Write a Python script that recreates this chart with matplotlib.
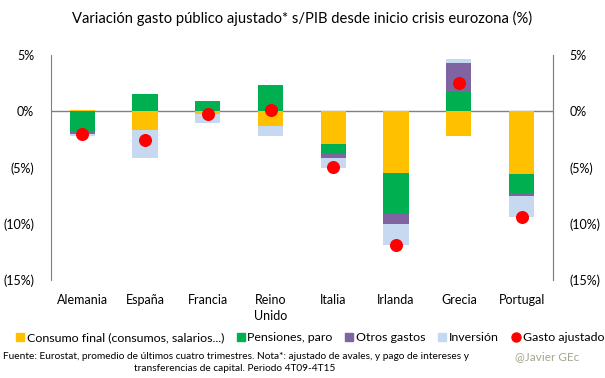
import numpy as np
import matplotlib.pyplot as plt
from matplotlib.lines import Line2D

plt.rcParams['font.family'] = ['Lato', 'DejaVu Sans']

# data (% of GDP change)
paises = ["Alemania", "España", "Francia", "Reino\nUnido", "Italia", "Irlanda", "Grecia", "Portugal"]
consumo = [0.1, -1.65, -0.2, -1.3, -2.9, -5.45, -2.2, -5.55]
pensiones = [-1.7, 1.55, 0.85, 2.3, -0.85, -3.65, 1.85, -1.7]
otros = [-0.3, 0.0, 0.05, 0.05, -0.4, -0.95, 2.45, -0.25]
inversion = [-0.2, -2.45, -0.85, -0.85, -0.9, -1.85, 0.4, -1.85]
ajustado = [-2.0, -2.55, -0.2, 0.1, -4.9, -11.85, 2.55, -9.35]

series = [
    ("Consumo final (consumos, salarios...)", consumo, "#FFC000"),
    ("Pensiones, paro", pensiones, "#00B050"),
    ("Otros gastos", otros, "#8064A2"),
    ("Inversión", inversion, "#C6D9F1"),
]

fig = plt.figure(figsize=(6.05, 3.78), dpi=100)
ax = fig.add_axes([0.084, 0.259, 0.83, 0.595])
x = np.arange(len(paises))

pos_base = np.zeros(len(paises))
neg_base = np.zeros(len(paises))
handles = []
for name, vals, col in series:
    v = np.array(vals)
    base = np.where(v >= 0, pos_base, neg_base)
    ax.bar(x, v, width=0.4, bottom=base, color=col, zorder=2)
    handles.append(Line2D([], [], ls="none", marker="s", ms=6, mfc=col, mec=col, label=name))
    pos_base += np.where(v >= 0, v, 0)
    neg_base += np.where(v < 0, v, 0)

ax.scatter(x, ajustado, s=70, color="#FF0000", zorder=3)
handles.append(Line2D([], [], ls="none", marker="o", ms=6.5, mfc="#FF0000", mec="#FF0000",
                      label="Gasto ajustado"))
ax.axhline(0, color="#808080", lw=1, zorder=1)

ax.set_xlim(-0.5, len(paises) - 0.5)
ax.set_ylim(-15, 5)
yt = [5, 0, -5, -10, -15]
ylab = ["5%", "0%", "(5%)", "(10%)", "(15%)"]
ax.set_yticks(yt)
ax.set_yticklabels(ylab, fontsize=9)
ax.set_xticks(x)
ax.set_xticklabels(paises, fontsize=9, linespacing=1.4)
ax.tick_params(axis="x", length=0, pad=10)
ax.tick_params(axis="y", length=0, pad=12)
for s in ["top", "bottom"]:
    ax.spines[s].set_visible(False)
for s in ["left", "right"]:
    ax.spines[s].set_color("#808080")

ax2 = ax.twinx()
ax2.set_ylim(-15, 5)
ax2.set_yticks(yt)
ax2.set_yticklabels(ylab, fontsize=9)
ax2.tick_params(axis="y", length=0, pad=12)
for s in ["top", "bottom", "left"]:
    ax2.spines[s].set_visible(False)
ax2.spines["right"].set_color("#808080")

fig.text(0.5, 0.952, "Variación gasto público ajustado* s/PIB desde inicio crisis eurozona (%)",
         ha="center", va="center", fontsize=10.6)

fig.legend(handles=handles, loc="center", bbox_to_anchor=(0.512, 0.107),
           ncol=5, frameon=False, fontsize=8.9, handlelength=0.7,
           handletextpad=0.2, columnspacing=1.0, borderaxespad=0, borderpad=0)

fig.text(0.005, 0.056, "Fuente: Eurostat, promedio de últimos cuatro trimestres. Nota*: ajustado de avales, y pago de intereses y",
         fontsize=7.3, va="center")
fig.text(0.388, 0.026, "transferencias de capital. Periodo 4T09-4T15", fontsize=7.3, va="center", ha="center")
fig.text(0.851, 0.056, "@Javier GEc", fontsize=8.5, va="center", color="#A6A68C")

fig.savefig("out.png", dpi=100)
